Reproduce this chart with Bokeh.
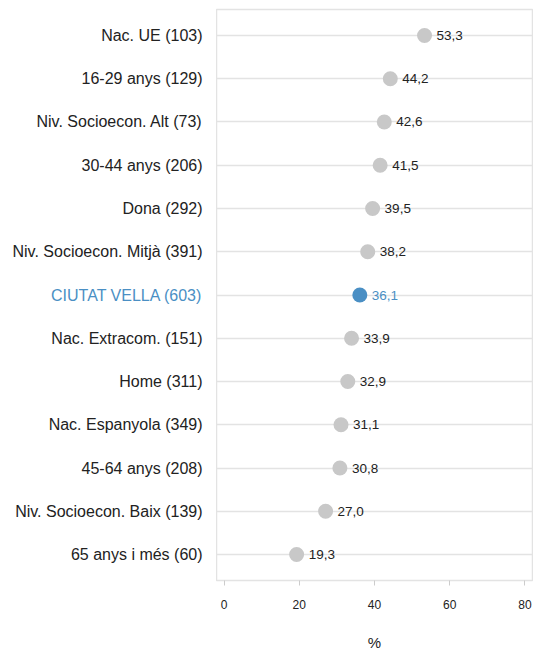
from bokeh.plotting import figure
from bokeh.layouts import row
from bokeh.models import ColumnDataSource, FactorRange, Range1d, LabelSet, FixedTicker
from bokeh.core.properties import value
from bokeh.embed import file_html
from bokeh.resources import INLINE

categories = ["Nac. UE (103)", "16-29 anys (129)", "Niv. Socioecon. Alt (73)",
              "30-44 anys (206)", "Dona (292)", "Niv. Socioecon. Mitjà (391)",
              "CIUTAT VELLA (603)", "Nac. Extracom. (151)", "Home (311)",
              "Nac. Espanyola (349)", "45-64 anys (208)", "Niv. Socioecon. Baix (139)",
              "65 anys i més (60)"]
values = [53.3, 44.2, 42.6, 41.5, 39.5, 38.2, 36.1, 33.9, 32.9, 31.1, 30.8, 27.0, 19.3]
highlight = "CIUTAT VELLA (603)"
x_ticks = [0, 20, 40, 60, 80]

GRAY = "#c8c8c8"
BLUE = "#4a8fc4"
TEXT = "#222222"
FONT = "Liberation Sans"

colors = [BLUE if c == highlight else GRAY for c in categories]
text_colors = [BLUE if c == highlight else TEXT for c in categories]
vlabels = [f"{v:.1f}".replace(".", ",") for v in values]

src = ColumnDataSource(dict(cat=categories, val=values, color=colors,
                            tcolor=text_colors, vlab=vlabels,
                            right=[1.0] * len(categories)))

yr = FactorRange(factors=list(reversed(categories)),
                 range_padding=0.1, range_padding_units="absolute")

TOP, BOTTOM, H = 9, 74, 654

# label panel (category names)
lp = figure(width=216, height=H, output_backend="svg", toolbar_location=None,
            y_range=yr, x_range=Range1d(0, 1),
            min_border_left=0, min_border_right=0, min_border_top=TOP,
            min_border_bottom=BOTTOM)
lp.outline_line_color = None
lp.grid.grid_line_color = None
lp.xaxis.visible = False
lp.yaxis.visible = False
lp.text(x="right", y="cat", text="cat", source=src, x_offset=-14,
        text_align="right", text_baseline="middle", text_font=value(FONT),
        text_font_size="16px", text_color="tcolor")

# main dot plot
p = figure(width=317, height=H, output_backend="svg", toolbar_location=None,
           y_range=yr, x_range=Range1d(-2, 82),
           min_border_left=0, min_border_right=1, min_border_top=TOP,
           min_border_bottom=BOTTOM)

p.outline_line_color = "#e3e3e3"
p.outline_line_width = 1.5
p.xgrid.grid_line_color = None
p.ygrid.grid_line_color = "#e3e3e3"
p.ygrid.grid_line_width = 1.5

p.scatter(x="val", y="cat", source=src, size=15, fill_color="color",
          line_color=None)

p.add_layout(LabelSet(x="val", y="cat", text="vlab", source=src,
                      x_offset=12, text_align="left", text_baseline="middle",
                      text_font=value(FONT), text_font_size="13.5px",
                      text_color="tcolor"))

p.yaxis.visible = False

xa = p.xaxis[0]
xa.ticker = FixedTicker(ticks=x_ticks)
xa.axis_line_color = None
xa.major_tick_line_color = "#cccccc"
xa.major_tick_in = 0
xa.major_tick_out = 5
xa.minor_tick_line_color = None
xa.major_label_text_font = FONT
xa.major_label_text_font_size = "12px"
xa.major_label_text_color = TEXT
xa.major_label_standoff = 14
xa.axis_label = "%"
xa.axis_label_text_font = FONT
xa.axis_label_text_font_style = "normal"
xa.axis_label_text_font_size = "15px"
xa.axis_label_text_color = TEXT
xa.axis_label_standoff = 22

layout = row(lp, p, spacing=0)
open("out.html", "w").write(file_html(layout, INLINE))
